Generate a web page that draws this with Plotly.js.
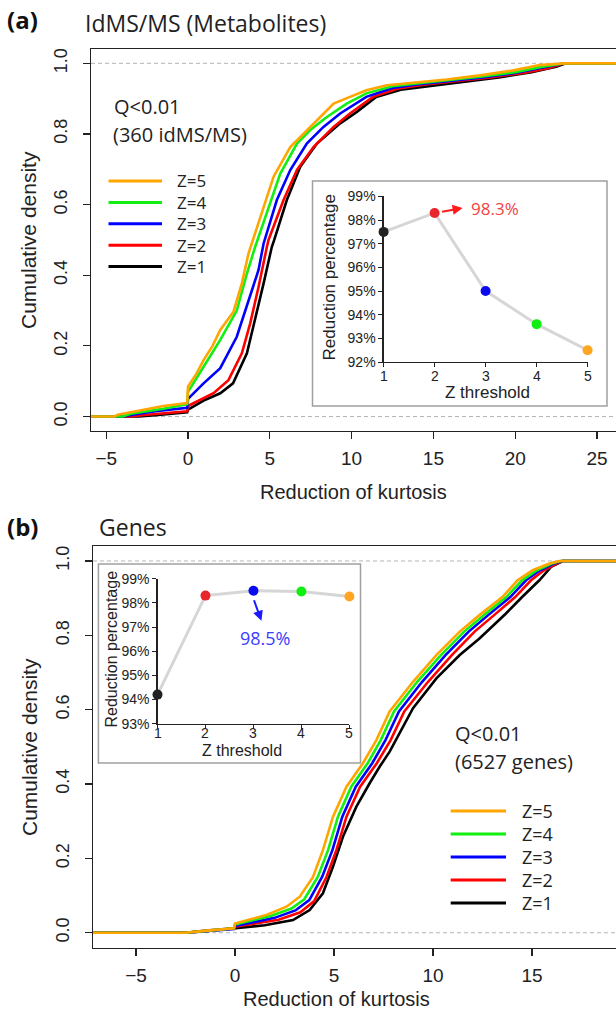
<!DOCTYPE html>
<html>
<head>
<meta charset="utf-8">
<script src="https://cdn.plot.ly/plotly-3.0.1.min.js"></script>
<style>html,body{margin:0;padding:0;background:#fff;}#chart{width:616px;height:1012px;}</style>
</head>
<body>
<div id="chart"></div>
<script>
// ---------------- DATA ----------------
const seriesNames = ['Z=1', 'Z=2', 'Z=3', 'Z=4', 'Z=5'];
const zThresholds = [1, 2, 3, 4, 5];

// (a) IdMS/MS metabolites: empirical cumulative density of reduction of kurtosis
const metabZ1x = [-7, -3, -2, -0.5, -0.05, 0, 0.95, 1.97, 2.75, 3.6, 4.0, 4.62, 5.12, 5.27, 6.04, 6.86, 7.88, 9.3, 10.3, 11.5, 13, 15, 17, 19, 21, 22.5, 23.1, 27];
const metabZ1y = [0, 0, 0.004, 0.01, 0.012, 0.02, 0.045, 0.066, 0.094, 0.179, 0.254, 0.377, 0.48, 0.5, 0.613, 0.707, 0.773, 0.83, 0.862, 0.905, 0.925, 0.937, 0.948, 0.96, 0.975, 0.99, 1, 1];
const metabZ2x = [-7, -3.5, -2.5, -1, -0.05, 0, 0.95, 1.56, 2.47, 3.29, 3.8, 4.31, 4.82, 4.92, 5.84, 6.66, 7.67, 8.9, 9.9, 11.3, 12.8, 14.5, 16.5, 18.5, 20.5, 22, 23, 27];
const metabZ2y = [0, 0, 0.005, 0.01, 0.015, 0.03, 0.052, 0.066, 0.103, 0.179, 0.264, 0.367, 0.48, 0.5, 0.613, 0.698, 0.763, 0.82, 0.858, 0.905, 0.928, 0.94, 0.95, 0.96, 0.973, 0.986, 1, 1];
const metabZ3x = [-7, -4, -3, -2, -0.05, 0, 0.95, 1.97, 2.98, 3.8, 4.31, 4.62, 5.43, 6.25, 7.26, 8.28, 9.3, 10.9, 12.5, 14, 16, 18, 20, 21.8, 23, 27];
const metabZ3y = [0, 0, 0.008, 0.015, 0.025, 0.05, 0.094, 0.137, 0.226, 0.34, 0.415, 0.49, 0.613, 0.698, 0.773, 0.82, 0.858, 0.905, 0.93, 0.94, 0.95, 0.96, 0.973, 0.988, 1, 1];
const metabZ4x = [-7, -4, -3.5, -2.5, -1.5, -0.05, 0, 0.95, 1.97, 2.98, 3.6, 4.1, 4.25, 5.02, 5.64, 6.66, 7.47, 8.49, 9.7, 10.9, 12.5, 14, 16, 18, 20, 21.6, 23, 27];
const metabZ4y = [0, 0, 0.008, 0.015, 0.022, 0.035, 0.07, 0.141, 0.217, 0.30, 0.405, 0.48, 0.5, 0.603, 0.688, 0.773, 0.811, 0.848, 0.886, 0.915, 0.935, 0.943, 0.952, 0.963, 0.975, 0.99, 1, 1];
const metabZ5x = [-7, -4.5, -4.3, -3.5, -2.5, -1.5, -0.05, 0, 0.5, 0.95, 1.5, 1.97, 2.78, 3.29, 3.7, 3.97, 4.62, 5.23, 6.25, 6.86, 7.67, 8.9, 9.9, 10.9, 12.16, 13.8, 15.8, 17.86, 19.9, 21.5, 23, 27];
const metabZ5y = [0, 0, 0.005, 0.012, 0.02, 0.03, 0.038, 0.085, 0.12, 0.16, 0.2, 0.245, 0.297, 0.377, 0.462, 0.5, 0.594, 0.679, 0.763, 0.792, 0.83, 0.886, 0.905, 0.924, 0.938, 0.945, 0.954, 0.966, 0.98, 0.995, 1, 1];

// (b) Genes
const geneZ1x = [-8, -2.5, -1.5, 0, 1.5, 2.93, 3.77, 4.44, 4.95, 5.45, 6.13, 6.8, 7.31, 7.81, 8.99, 10.17, 11.35, 12.36, 13.67, 14.5, 15.37, 15.96, 16.55, 20];
const geneZ1y = [0, 0, 0.004, 0.012, 0.02, 0.034, 0.061, 0.106, 0.178, 0.258, 0.339, 0.402, 0.447, 0.487, 0.604, 0.684, 0.747, 0.792, 0.858, 0.903, 0.948, 0.984, 1, 1];
const geneZ2x = [-8, -2.5, -1.5, -0.05, 0, 2.2, 3.3, 4.0, 4.62, 5.12, 5.63, 6.32, 7.16, 7.86, 8.55, 9.75, 10.95, 12.1, 13.1, 14.15, 14.95, 15.6, 16.25, 16.55, 20];
const geneZ2y = [0, 0, 0.006, 0.012, 0.016, 0.035, 0.055, 0.085, 0.15, 0.222, 0.312, 0.393, 0.456, 0.518, 0.595, 0.675, 0.747, 0.81, 0.855, 0.903, 0.948, 0.975, 0.993, 1, 1];
const geneZ3x = [-8, -2.5, -1.5, -0.05, 0, 2.0, 3.05, 3.75, 4.4, 4.92, 5.42, 6.1, 6.93, 7.6, 8.28, 9.45, 10.63, 11.8, 12.8, 13.9, 14.7, 15.4, 16.1, 16.5, 20];
const geneZ3y = [0, 0, 0.004, 0.01, 0.018, 0.04, 0.06, 0.088, 0.15, 0.222, 0.312, 0.393, 0.456, 0.518, 0.595, 0.675, 0.747, 0.81, 0.855, 0.903, 0.948, 0.975, 0.993, 1, 1];
const geneZ4x = [-8, -2.5, -1.5, -0.05, 0, 1.8, 2.85, 3.5, 4.18, 4.7, 5.2, 5.87, 6.7, 7.36, 8.03, 9.2, 10.4, 11.57, 12.58, 13.7, 14.5, 15.25, 16.0, 16.45, 20];
const geneZ4y = [0, 0, 0.005, 0.012, 0.022, 0.045, 0.065, 0.09, 0.15, 0.222, 0.312, 0.393, 0.456, 0.518, 0.595, 0.675, 0.747, 0.81, 0.855, 0.903, 0.948, 0.975, 0.993, 1, 1];
const geneZ5x = [-8, -2.5, -1.5, -0.05, 0, 1.59, 2.6, 3.27, 3.94, 4.44, 4.95, 5.63, 6.46, 7.14, 7.81, 8.99, 10.17, 11.35, 12.36, 13.5, 14.27, 15.03, 15.88, 16.39, 20];
const geneZ5y = [0, 0, 0.005, 0.012, 0.025, 0.048, 0.07, 0.097, 0.15, 0.222, 0.312, 0.393, 0.456, 0.518, 0.595, 0.675, 0.747, 0.81, 0.855, 0.903, 0.948, 0.975, 0.993, 1, 1];

// Insets: reduction percentage vs Z threshold
const metabReduction = [97.5, 98.3, 95.0, 93.6, 92.5];
const geneReduction = [94.2, 98.3, 98.5, 98.47, 98.26];

const metabTicksX = [-5, 0, 5, 10, 15, 20, 25];
const geneTicksX = [-5, 0, 5, 10, 15, 20];
const densityTicks = [0, 0.2, 0.4, 0.6, 0.8, 1.0];
const metabInsetTicksY = [92, 93, 94, 95, 96, 97, 98, 99];
const geneInsetTicksY = [93, 94, 95, 96, 97, 98, 99];

// ---------------- STYLE ----------------
const lineColors = ['#000000', '#ff0000', '#0000ff', '#11ee11', '#ffa500'];
const dotColors = ['#222222', '#e8242c', '#0a0aee', '#11ee11', '#ffa520'];
const W = 616, H = 1012;
const PX = p => p / W;
const PY = p => 1 - p / H;
const AX_FONT = 'Liberation Sans, Arial, sans-serif';
const TX_FONT = 'Open Sans, Noto Sans, sans-serif';

const metabX = [metabZ1x, metabZ2x, metabZ3x, metabZ4x, metabZ5x];
const metabY = [metabZ1y, metabZ2y, metabZ3y, metabZ4y, metabZ5y];
const geneX = [geneZ1x, geneZ2x, geneZ3x, geneZ4x, geneZ5x];
const geneY = [geneZ1y, geneZ2y, geneZ3y, geneZ4y, geneZ5y];

const traces = [];
for (let i = 0; i < 5; i++) {
  traces.push({x: metabX[i], y: metabY[i], type: 'scatter', mode: 'lines', xaxis: 'x', yaxis: 'y',
    line: {color: lineColors[i], width: 2.6}, name: seriesNames[i], showlegend: false, hoverinfo: 'skip'});
}
for (let i = 0; i < 5; i++) {
  traces.push({x: geneX[i], y: geneY[i], type: 'scatter', mode: 'lines', xaxis: 'x3', yaxis: 'y3',
    line: {color: lineColors[i], width: 2.6}, name: seriesNames[i], showlegend: false, hoverinfo: 'skip'});
}
traces.push({x: zThresholds, y: metabReduction, type: 'scatter', mode: 'lines+markers', xaxis: 'x2', yaxis: 'y2',
  line: {color: '#d6d6d6', width: 3}, marker: {color: dotColors, size: 10}, cliponaxis: false, showlegend: false});
traces.push({x: zThresholds, y: geneReduction, type: 'scatter', mode: 'lines+markers', xaxis: 'x4', yaxis: 'y4',
  line: {color: '#d6d6d6', width: 3}, marker: {color: dotColors, size: 10}, cliponaxis: false, showlegend: false});

const mainX = (dom, range, ticks, anchor) => ({
  domain: dom, range: range, tickvals: ticks, ticks: 'outside', ticklen: 7, tickwidth: 1.1, tickcolor: '#222',
  showline: true, mirror: true, linecolor: '#222', linewidth: 1.4, showgrid: false, zeroline: false,
  tickfont: {family: AX_FONT, size: 19, color: '#222'}, ticklabelstandoff: 3, anchor: anchor, fixedrange: true
});
const mainY = (dom, anchor) => ({
  domain: dom, range: [-0.04, 1.04], tickvals: densityTicks, tickformat: '.1f', tickangle: -90,
  ticks: 'outside', ticklen: 7, tickwidth: 1.1, tickcolor: '#222', showline: true, mirror: false,
  linecolor: '#222', linewidth: 1.4, showgrid: false, zeroline: false,
  tickfont: {family: AX_FONT, size: 18, color: '#222'}, ticklabelstandoff: 8, anchor: anchor, fixedrange: true
});
const insetX = (dom, anchor) => ({
  domain: dom, range: [1, 5], tickvals: zThresholds, ticks: 'outside', ticklen: 4, tickcolor: '#222',
  showline: true, linecolor: '#222', linewidth: 1.2, showgrid: false, zeroline: false,
  showticklabels: false, anchor: anchor, fixedrange: true
});
const insetY = (dom, range, ticks, anchor) => ({
  domain: dom, range: range, tickvals: ticks, ticktext: ticks.map(v => v + '%'), ticks: 'outside', ticklen: 4, tickcolor: '#222',
  showline: true, linecolor: '#222', linewidth: 1.2, showgrid: false, zeroline: false,
  tickfont: {family: AX_FONT, size: 14, color: '#222'}, ticklabelstandoff: 0, anchor: anchor, fixedrange: true
});

const shapes = [];
// grey dashed reference lines at density 0 and 1
[['y', PX(91)], ['y3', PX(93)]].forEach(([yr, x0]) => {
  [0, 1].forEach(v => shapes.push({type: 'line', xref: 'paper', yref: yr, x0: x0, x1: 1, y0: v, y1: v,
    line: {color: '#b4b4b4', width: 1, dash: '4px,3px'}, layer: 'below'}));
});
// inset frames
shapes.push({type: 'rect', xref: 'paper', yref: 'paper', x0: PX(312.5), x1: PX(607), y0: PY(406), y1: PY(181),
  line: {color: '#a0a0a0', width: 1.5}, fillcolor: '#ffffff', layer: 'below'});
shapes.push({type: 'rect', xref: 'paper', yref: 'paper', x0: PX(98.4), x1: PX(360.5), y0: PY(763), y1: PY(564),
  line: {color: '#a0a0a0', width: 1.5}, fillcolor: '#ffffff', layer: 'below'});

const annotations = [];
const txt = (x, y, text, size, opts) => Object.assign({xref: 'paper', yref: 'paper', x: PX(x), y: PY(y), text: text,
  showarrow: false, xanchor: 'center', yanchor: 'middle', borderpad: 0, font: {family: TX_FONT, size: size, color: '#222'}}, opts || {});

// legends (Z=5 on top)
const legendBlock = (x0, x1, tx, y0, dy, fs) => {
  for (let k = 0; k < 5; k++) {
    const i = 4 - k;
    const yy = y0 + k * dy;
    shapes.push({type: 'line', xref: 'paper', yref: 'paper', x0: PX(x0), x1: PX(x1), y0: PY(yy), y1: PY(yy),
      line: {color: lineColors[i], width: 3}});
    annotations.push(txt(tx, yy, seriesNames[i], fs, {xanchor: 'left'}));
  }
};
legendBlock(108.5, 162, 176, 181, 21.4, 17);
legendBlock(450.7, 506, 521, 811, 23, 18);

// inset x tick labels (placed on the inset x scales)
zThresholds.forEach(z => {
  annotations.push({xref: 'x2', yref: 'paper', x: z, y: PY(375.5), text: String(z), showarrow: false,
    xanchor: 'center', yanchor: 'middle', borderpad: 0, font: {family: AX_FONT, size: 14, color: '#222'}});
  annotations.push({xref: 'x4', yref: 'paper', x: z, y: PY(733), text: String(z), showarrow: false,
    xanchor: 'center', yanchor: 'middle', borderpad: 0, font: {family: AX_FONT, size: 14, color: '#222'}});
});

// panel labels and titles
annotations.push(txt(6, 19, '<b>(a)</b>', 24, {xanchor: 'left', font: {family: TX_FONT, size: 24, color: '#111'}}));
annotations.push(txt(84, 23, 'IdMS/MS (Metabolites)', 23, {xanchor: 'left'}));
annotations.push(txt(6, 526, '<b>(b)</b>', 24, {xanchor: 'left', font: {family: TX_FONT, size: 24, color: '#111'}}));
annotations.push(txt(98, 527, 'Genes', 23, {xanchor: 'left'}));

annotations.push(txt(113, 106, 'Q&lt;0.01', 20, {xanchor: 'left'}));
annotations.push(txt(112, 134, '(360 idMS/MS)', 20, {xanchor: 'left'}));
annotations.push(txt(454, 733, 'Q&lt;0.01', 20, {xanchor: 'left'}));
annotations.push(txt(454, 761.5, '(6527 genes)', 20, {xanchor: 'left'}));

// axis titles
const axT = (x, y, text, size, angle) => txt(x, y, text, size, {textangle: angle || 0, font: {family: AX_FONT, size: size, color: '#222'}});
annotations.push(axT(353, 492, 'Reduction of kurtosis', 20));
annotations.push(axT(336, 999, 'Reduction of kurtosis', 20));
annotations.push(axT(29, 240, 'Cumulative density', 21, -90));
annotations.push(axT(29, 747, 'Cumulative density', 21, -90));
annotations.push(axT(487, 392, 'Z threshold', 17));
annotations.push(axT(329.5, 278, 'Reduction percentage', 17, -90));
annotations.push(axT(242, 750.5, 'Z threshold', 16));
annotations.push(axT(110.5, 649, 'Reduction percentage', 16, -90));

// highlighted values in insets
const bestMetab = 1, bestGene = 2;
annotations.push({xref: 'x2', yref: 'y2', x: zThresholds[bestMetab], y: metabReduction[bestMetab], xshift: 28, yshift: 5,
  showarrow: true, ax: -22, ay: 4, text: '', arrowcolor: '#ff1a1a', arrowwidth: 2, arrowhead: 2, arrowsize: 1});
annotations.push({xref: 'x2', yref: 'y2', x: zThresholds[bestMetab], y: metabReduction[bestMetab], xshift: 60, yshift: 4,
  showarrow: false, text: metabReduction[bestMetab].toFixed(1) + '%', font: {family: TX_FONT, size: 17, color: '#f04444'}});
annotations.push({xref: 'x4', yref: 'y4', x: zThresholds[bestGene], y: geneReduction[bestGene], xshift: 8, yshift: -30,
  showarrow: true, ax: -8, ay: -22, text: '', arrowcolor: '#1a1aff', arrowwidth: 2, arrowhead: 2, arrowsize: 1});
annotations.push({xref: 'x4', yref: 'y4', x: zThresholds[bestGene], y: geneReduction[bestGene], xshift: 12, yshift: -47,
  showarrow: false, text: geneReduction[bestGene].toFixed(1) + '%', font: {family: TX_FONT, size: 18, color: '#3c3cff'}});

const layout = {
  width: W, height: H, margin: {l: 0, r: 0, t: 0, b: 0}, paper_bgcolor: '#ffffff', plot_bgcolor: 'rgba(0,0,0,0)',
  showlegend: false,
  xaxis: mainX([PX(91), 1], [-5.93, 26.16], metabTicksX, 'y'),
  yaxis: mainY([PY(430.7), PY(49.2)], 'x'),
  xaxis2: insetX([PX(383.6), PX(587.6)], 'y2'),
  yaxis2: insetY([PY(362), PY(196.4)], [92, 99], metabInsetTicksY, 'x2'),
  xaxis3: mainX([PX(93), 1], [-7.17, 19.24], geneTicksX, 'y3'),
  yaxis3: mainY([PY(947.6), PY(546.1)], 'x3'),
  xaxis4: insetX([PX(157.5), PX(349.4)], 'y4'),
  yaxis4: insetY([PY(723.6), PY(578.7)], [93, 99], geneInsetTicksY, 'x4'),
  shapes: shapes, annotations: annotations
};
Plotly.newPlot('chart', traces, layout, {staticPlot: true, displayModeBar: false});
</script>
</body>
</html>
